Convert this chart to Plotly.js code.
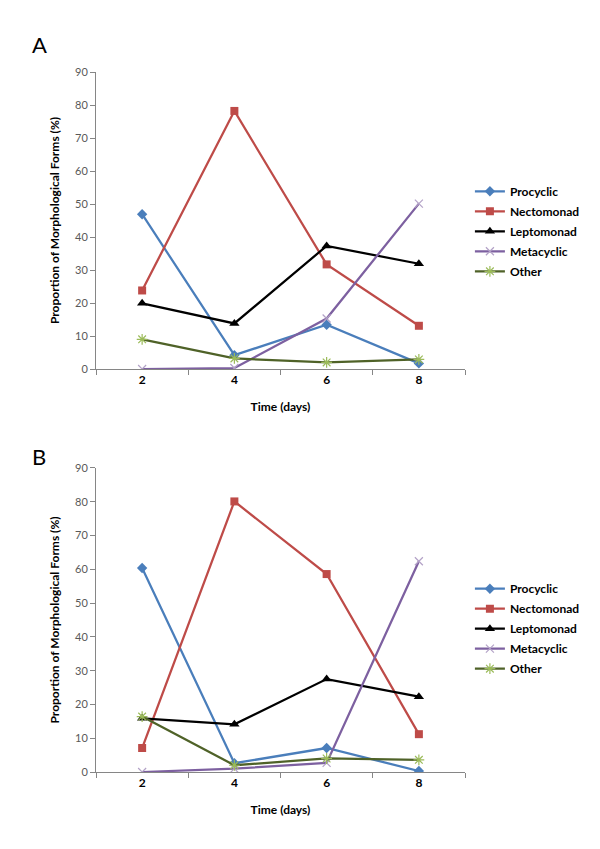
<!DOCTYPE html>
<html>
<head>
<meta charset="utf-8">
<script src="https://cdn.plot.ly/plotly-3.0.1.min.js"></script>
<style>html,body{margin:0;padding:0;background:#fff;}#chart{width:600px;height:849px;}</style>
</head>
<body>
<div id="chart"></div>
<script>
// Days (categories)
const days = [2, 4, 6, 8];
const seriesNames = ["Procyclic", "Nectomonad", "Leptomonad", "Metacyclic", "Other"];

// Panel A values (%)
const procyclicA  = [46.9, 4.2, 13.4, 1.7];
const nectomonadA = [23.8, 78.2, 31.7, 13.1];
const leptomonadA = [19.9, 13.8, 37.3, 31.9];
const metacyclicA = [0.0, 0.3, 15.3, 50.1];
const otherA      = [9.0, 3.2, 2.0, 2.9];

// Panel B values (%)
const procyclicB  = [60.4, 2.6, 7.1, 0.3];
const nectomonadB = [7.1, 80.1, 58.6, 11.2];
const leptomonadB = [15.9, 14.1, 27.5, 22.3];
const metacyclicB = [0.0, 1.0, 2.7, 62.4];
const otherB      = [16.4, 2.0, 4.0, 3.6];

const styles = [
  {line: {color: '#4A7EBB', width: 2.25}, marker: {symbol: 'diamond', size: 8, color: '#4A7EBB'}},
  {line: {color: '#BE4B48', width: 2.25}, marker: {symbol: 'square', size: 8, color: '#BE4B48'}},
  {line: {color: '#000000', width: 2.25}, marker: {symbol: 'triangle-up', size: 9, color: '#000000'}},
  {line: {color: '#7D60A0', width: 2.25}, marker: {symbol: 'x-thin-open', size: 8, color: '#B3A2C7', line: {width: 1.2, color: '#B3A2C7'}}},
  {line: {color: '#4F6228', width: 2.25}, marker: {symbol: 'asterisk-open', size: 9, color: '#9BBB59', line: {width: 1.2, color: '#9BBB59'}}}
];

const dataA = [procyclicA, nectomonadA, leptomonadA, metacyclicA, otherA];
const dataB = [procyclicB, nectomonadB, leptomonadB, metacyclicB, otherB];

const traces = [];
dataA.forEach((vals, i) => {
  traces.push(Object.assign({
    type: 'scatter', mode: 'lines+markers', x: days, y: vals, name: seriesNames[i],
    xaxis: 'x', yaxis: 'y', legend: 'legend', legendgroup: 'a' + i
  }, JSON.parse(JSON.stringify(styles[i]))));
});
dataB.forEach((vals, i) => {
  traces.push(Object.assign({
    type: 'scatter', mode: 'lines+markers', x: days, y: vals, name: seriesNames[i],
    xaxis: 'x2', yaxis: 'y2', legend: 'legend2', legendgroup: 'b' + i
  }, JSON.parse(JSON.stringify(styles[i]))));
});

const fontFam = 'Lato, "Liberation Sans", sans-serif';

function xAxis(anchor) {
  return {
    anchor: anchor, domain: [0, 1], range: [1, 9],
    tickvals: days, ticktext: days.map(String), ticks: '',
    tickfont: {family: fontFam, size: 12, color: '#000', weight: 'bold'},
    showline: true, linecolor: '#868686', linewidth: 1,
    showgrid: false, zeroline: false,
    minor: {tick0: 1, dtick: 2, ticks: 'outside', ticklen: 5, tickcolor: '#868686', showgrid: false},
    title: {text: '<b>Time (days)</b>', font: {family: fontFam, size: 12, color: '#000'}, standoff: 16}
  };
}
function yAxis(anchor, domain) {
  return {
    anchor: anchor, domain: domain, range: [0, 90], dtick: 10, tick0: 0,
    ticks: 'outside', ticklen: 5, tickcolor: '#868686',
    tickfont: {family: fontFam, size: 11, color: '#595959'},
    showline: true, linecolor: '#868686', linewidth: 1,
    showgrid: false, zeroline: false,
    title: {text: '<b>Proportion of Morphological Forms (%)</b>', font: {family: fontFam, size: 12, color: '#000'}, standoff: 12}
  };
}

const legendBase = {
  xanchor: 'left', yanchor: 'top', bgcolor: 'rgba(0,0,0,0)', borderwidth: 0,
  font: {family: fontFam, size: 12, color: '#000', weight: 'bold'},
  itemwidth: 30, tracegroupgap: 1
};

const layout = {
  width: 600, height: 849,
  margin: {l: 96, r: 135, t: 72, b: 77},
  paper_bgcolor: '#fff', plot_bgcolor: '#fff',
  showlegend: true,
  xaxis: xAxis('y'),
  yaxis: yAxis('x', [0.5757, 1.0]),
  xaxis2: xAxis('y2'),
  yaxis2: yAxis('x2', [0, 0.4343]),
  legend: Object.assign({x: 1.0133, y: 0.8503}, legendBase),
  legend2: Object.assign({x: 1.0133, y: 0.2826}, legendBase),
  annotations: [
    {text: 'A', xref: 'paper', yref: 'paper', x: -0.18, y: 1.0, xanchor: 'left', yanchor: 'middle',
     yshift: 28, showarrow: false, font: {family: fontFam, size: 22, color: '#000'}},
    {text: 'B', xref: 'paper', yref: 'paper', x: -0.18, y: 0.4343, xanchor: 'left', yanchor: 'middle',
     yshift: 11, showarrow: false, font: {family: fontFam, size: 22, color: '#000'}}
  ]
};

Plotly.newPlot('chart', traces, layout, {displayModeBar: false, staticPlot: true});
</script>
</body>
</html>
